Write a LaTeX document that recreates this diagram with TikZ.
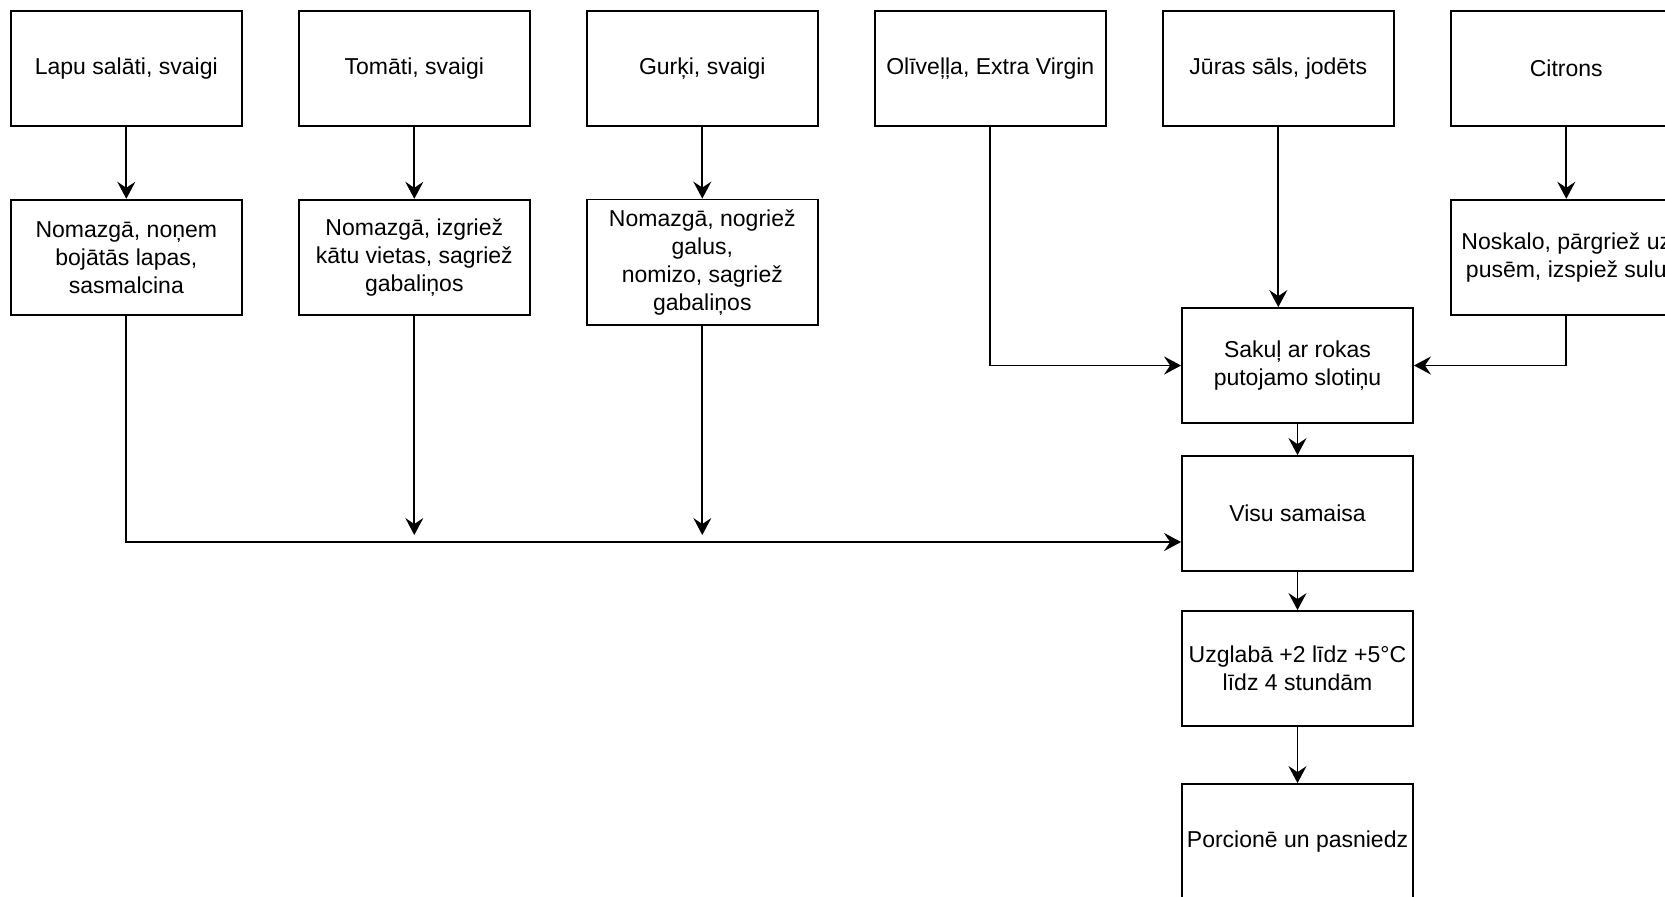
\documentclass[tikz,border=0pt]{standalone}
\usepackage{fontspec}
\setmainfont{Liberation Sans}
\usetikzlibrary{arrows.meta}

\begin{document}
\begin{tikzpicture}[x=0.5pt, y=-0.5pt, node distance=144pt,
        box/.style={rectangle, draw, line width=0.9pt, minimum width=115.5pt, minimum height=57.5pt,
            inner sep=1pt, align=center, font=\fontsize{11.5}{14}\selectfont},
        arr/.style={-{Stealth[length=8.5pt, width=9pt, inset=3pt]}, line width=0.9pt}]
        \useasboundingbox (0,0) rectangle (1665,896);

        % ingredients
        \node[box] (lapu) at (126.3,68.2) {Lapu salāti, svaigi};
        \node[box] (tomati) [right of=lapu] {Tomāti, svaigi};
        \node[box] (gurki) [right of=tomati] {Gurķi, svaigi};
        \node[box] (olive) [right of=gurki] {Olīveļļa, Extra Virgin};
        \node[box] (juras) [right of=olive] {Jūras sāls, jodēts};
        \node[box] (citrons) [right of=juras] {Citrons};

        % preparation
        \node[box] (lapuP) [below of=lapu, node distance=94.5pt] {Nomazgā, noņem\\bojātās lapas,\\sasmalcina};
        \node[box] (tomatiP) [below of=tomati, node distance=94.5pt] {Nomazgā, izgriež\\kātu vietas, sagriež\\gabaliņos};
        \node[box, minimum height=62.7pt] (gurkiP) [below of=gurki, node distance=97pt] {Nomazgā, nogriež\\galus,\\nomizo, sagriež\\gabaliņos};
        \node[box] (citronsP) [below of=citrons, node distance=94.5pt] {Noskalo, pārgriež uz\\pusēm, izspiež sulu};

        % process
        \node[box] (sakul) at (1297.5,365.5) {Sakuļ ar rokas\\putojamo slotiņu};
        \node[box] (visu) at (1297.5,513.5) {Visu samaisa};
        \node[box] (uzglaba) at (1297.5,668.5) {Uzglabā +2 līdz +5°C\\līdz 4 stundām};
        \node[box] (porcione) at (1297.5,841.5) {Porcionē un pasniedz};
        \coordinate (mixin) at ([yshift=-14.25pt]visu.west);

        \draw[arr] (lapu) -- (lapuP);
        \draw[arr] (tomati) -- (tomatiP);
        \draw[arr] (gurki) -- (gurkiP);
        \draw[arr] (citrons) -- (citronsP);

        \draw[arr] (olive) |- (sakul);
        \draw[arr] (juras) -- (juras |- sakul.north);
        \draw[arr] (citronsP) |- (sakul);

        \draw[arr] (lapuP) |- (mixin);
        \draw[arr, shorten >=3.5pt] (tomatiP) -- (tomatiP |- mixin);
        \draw[arr, shorten >=3.5pt] (gurkiP) -- (gurkiP |- mixin);

        \draw[arr] (sakul) -- (visu);
        \draw[arr] (visu) -- (uzglaba);
        \draw[arr] (uzglaba) -- (porcione);
    \end{tikzpicture}
\end{document}
